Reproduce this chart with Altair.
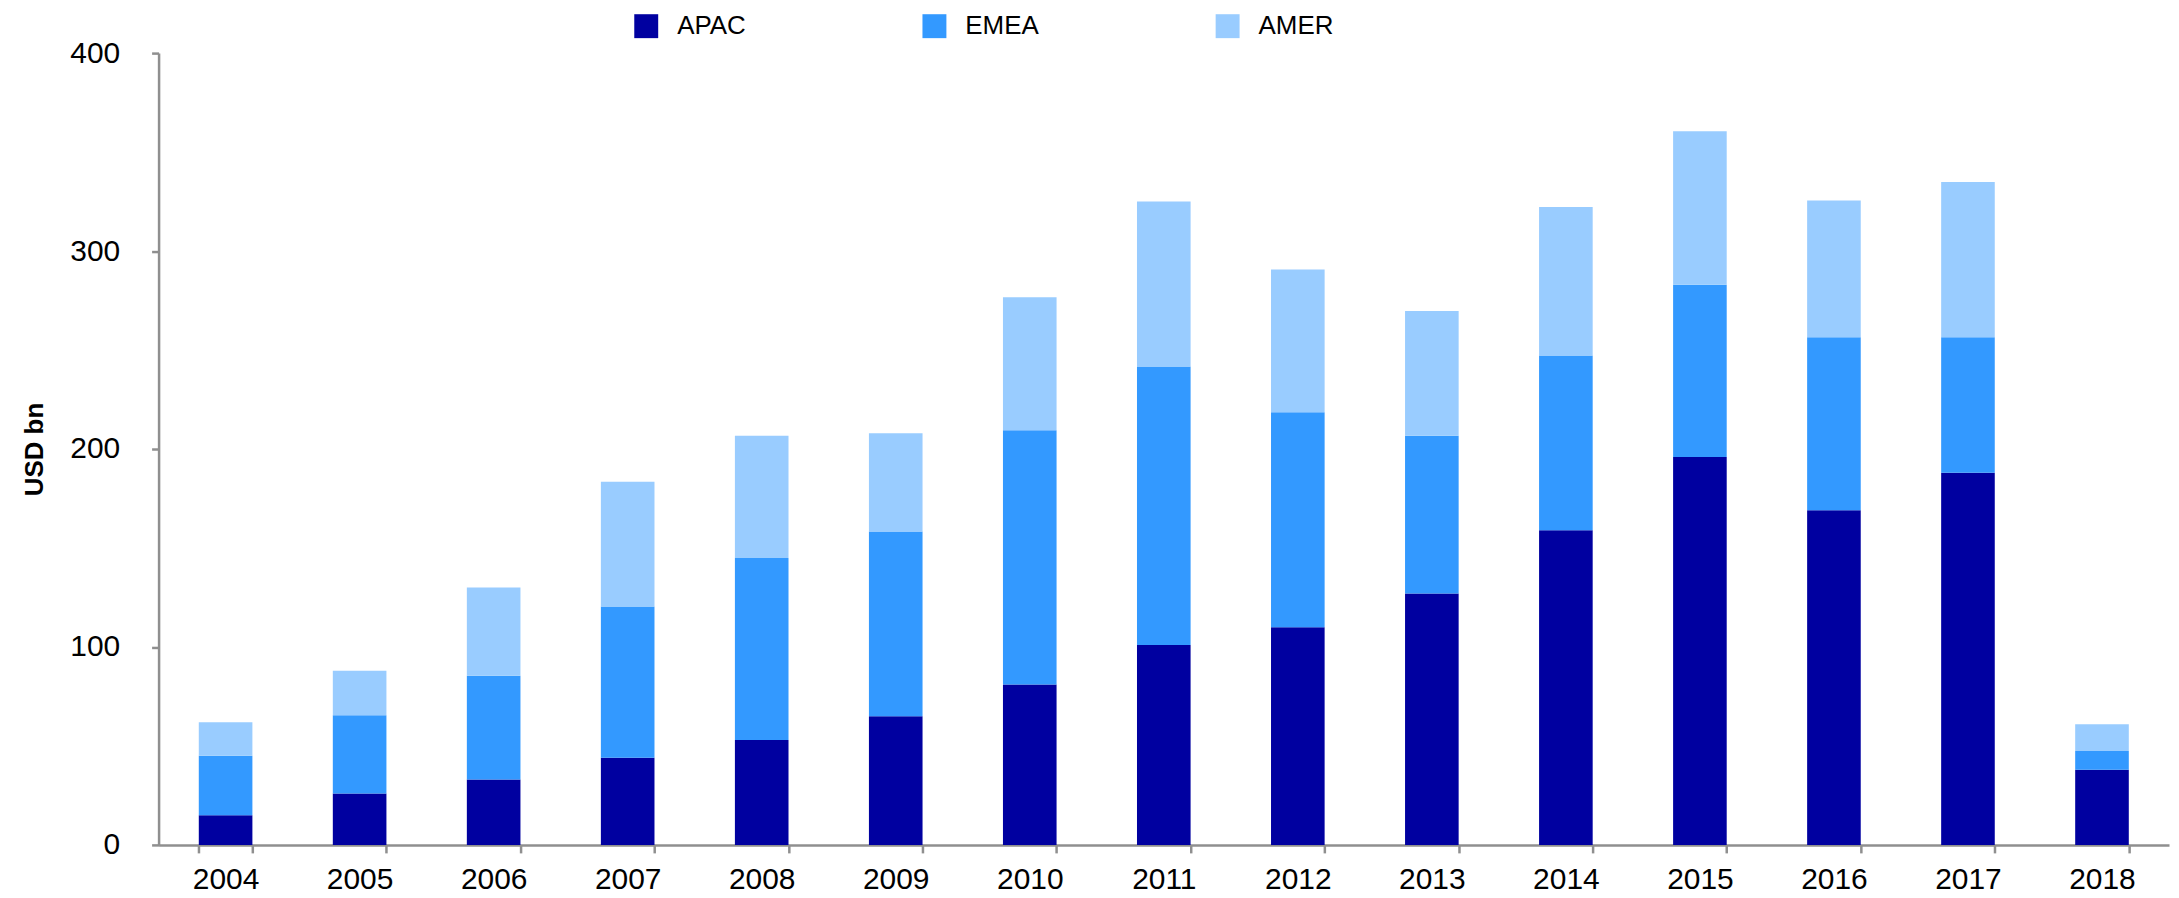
import altair as alt
import pandas as pd

years = ["2004", "2005", "2006", "2007", "2008", "2009", "2010", "2011",
         "2012", "2013", "2014", "2015", "2016", "2017", "2018"]
regions = ["APAC", "EMEA", "AMER"]
apac = [15, 26, 33, 44, 53, 65, 81, 101, 110, 127, 159, 196, 169, 188, 38]
emea = [30, 39.5, 52.5, 76.5, 92, 93.3, 128.5, 140.7, 108.6, 79.7, 88.3, 87, 87.4, 68.4, 9.4]
amer = [17, 22.5, 44.5, 63, 61.7, 49.7, 67.2, 83.3, 72.1, 63, 74.9, 77.5, 69.1, 78.5, 13.6]
colors = ["#0000A0", "#3399FF", "#99CCFF"]

rows = []
for i, y in enumerate(years):
    for k, (name, series) in enumerate(zip(regions, [apac, emea, amer])):
        rows.append({"year": y, "region": name, "value": series[i], "ord": k})
df = pd.DataFrame(rows)

FONT = "Liberation Sans"
AXIS_GREY = "#8f8f8f"

chart = alt.Chart(df).mark_bar().encode(
    x=alt.X("year:N", sort=years, title=None,
            scale=alt.Scale(paddingInner=0.6, paddingOuter=0.3),
            axis=alt.Axis(labelAngle=0, tickBand="extent", labelFontSize=30,
                          labelFont=FONT, labelColor="black", labelPadding=12,
                          tickSize=8, tickWidth=2.5, tickColor=AXIS_GREY,
                          domainColor=AXIS_GREY, domainWidth=2.5, grid=False)),
    y=alt.Y("value:Q", stack="zero", title="USD bn",
            scale=alt.Scale(domain=[0, 400], nice=False),
            axis=alt.Axis(values=[0, 100, 200, 300, 400], labelFontSize=30,
                          labelFont=FONT, labelColor="black", labelPadding=32,
                          tickSize=7, tickWidth=2.5, tickColor=AXIS_GREY,
                          domainColor=AXIS_GREY, domainWidth=2.5, grid=False,
                          titleFont=FONT, titleFontSize=26, titleFontWeight="bold",
                          titleColor="black", titlePadding=22)),
    color=alt.Color("region:N",
                    scale=alt.Scale(domain=regions, range=colors),
                    legend=alt.Legend(title=None, orient="none", legendX=476, legendY=-40,
                                      direction="horizontal", columns=3,
                                      symbolType="square", symbolSize=576,
                                      symbolStrokeWidth=0, symbolOpacity=1,
                                      labelFontSize=26, labelFont=FONT,
                                      labelColor="black", labelOffset=18,
                                      columnPadding=176, padding=0)),
    order=alt.Order("ord:Q", sort="ascending"),
).properties(
    width=2016,
    height=794,
    background="white",
    autosize=alt.AutoSizeParams(type="none"),
    padding={"left": 151, "top": 44, "right": 2, "bottom": 50},
).configure_view(stroke=None, strokeWidth=0)

chart.save("out.html", embed_options={"renderer": "svg", "actions": False})
